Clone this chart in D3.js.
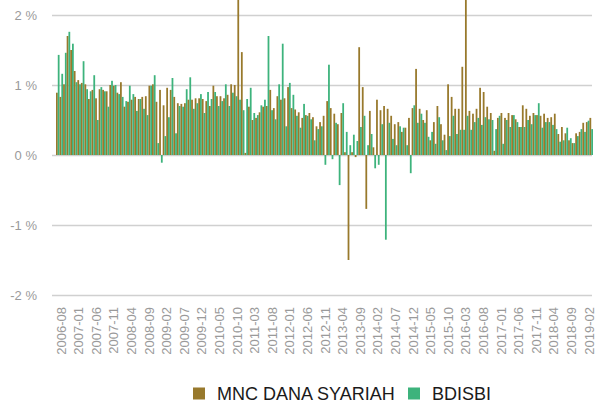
<!DOCTYPE html>
<html>
<head>
<meta charset="utf-8">
<script src="https://cdn.jsdelivr.net/npm/d3@7/dist/d3.min.js"></script>
<style>
  html, body { margin: 0; padding: 0; background: #fff; }
  svg { display: block; font-family: "Liberation Sans", Arial, sans-serif; }
</style>
</head>
<body>
<svg id="chart" width="596" height="403"></svg>
<script>
// ---- data ----
const seriesNames = ["MNC DANA SYARIAH", "BDISBI"];
const seriesColors = ["#98792c", "#3db37c"];
const tickLabels = ["2006-08","2007-01","2007-06","2007-11","2008-04","2008-09","2009-02","2009-07","2009-12","2010-05","2010-10","2011-03","2011-08","2012-01","2012-06","2012-11","2013-04","2013-09","2014-02","2014-07","2014-12","2015-05","2015-10","2016-03","2016-08","2017-01","2017-06","2017-11","2018-04","2018-09","2019-02"];
const yTicks = [-2, -1, 0, 1, 2];

const mnc = [0.89,0.83,1.01,1.70,1.50,1.20,1.07,1.03,1.01,0.80,
0.93,0.81,0.94,0.93,0.91,1.00,0.99,0.89,1.04,0.69,
0.76,0.79,0.83,0.80,0.83,0.84,0.99,1.01,0.76,0.93,
0.71,0.96,0.93,0.83,0.74,0.73,0.74,0.79,0.79,0.81,
0.81,0.80,0.77,0.70,0.99,0.84,0.84,0.81,0.86,1.01,
1.00,2.60,1.47,0.03,0.69,0.50,0.53,0.61,0.69,0.70,
0.93,0.67,0.84,0.79,0.81,0.97,0.67,0.65,0.61,0.53,
0.57,0.60,0.54,0.41,0.47,0.56,0.77,0.67,0.59,0.44,
0.60,0.04,-1.50,0.04,-0.03,1.54,0.97,-0.77,0.63,0.11,
0.79,0.64,0.70,0.66,0.56,0.44,0.47,0.33,0.39,0.53,
0.67,1.23,0.66,0.50,0.64,0.21,0.47,0.70,0.44,0.29,
1.01,0.83,0.66,0.66,1.26,2.50,0.63,0.59,0.66,0.96,
0.90,0.69,0.60,0.06,0.53,0.60,0.53,0.60,0.57,0.51,
0.40,0.71,0.66,0.56,0.60,0.57,0.56,0.59,0.53,0.54,
0.59,0.30,0.40,0.31,0.21,0.17,0.31,0.33,0.46,0.47,
0.53];

const bdisbi = [1.43,1.16,1.46,1.76,1.59,1.04,1.01,1.34,0.94,0.91,
1.14,0.50,0.97,0.91,0.69,1.06,1.00,0.87,0.83,0.77,
0.99,0.87,0.63,0.80,0.66,0.57,0.99,1.14,0.17,-0.11,
0.27,0.54,1.10,0.31,0.70,0.69,0.94,1.11,0.66,0.74,
0.87,0.60,0.90,0.80,0.90,0.70,0.77,1.01,0.70,0.89,
0.84,0.79,0.64,0.80,0.96,0.60,0.57,0.71,0.79,1.70,
0.64,0.51,1.01,1.59,0.41,1.03,0.86,0.56,0.39,0.73,
0.56,0.51,0.21,0.37,0.41,-0.14,1.29,-0.06,0.46,-0.43,
0.74,0.33,0.14,0.29,0.20,0.40,0.56,0.14,0.30,-0.19,
-0.14,0.44,-1.21,0.46,0.23,0.14,0.41,0.39,0.14,-0.26,
0.71,0.46,0.59,0.46,0.26,0.33,0.16,0.54,0.21,0.07,
0.27,0.56,0.30,0.36,0.36,0.56,0.36,0.47,0.53,0.43,
0.54,0.51,0.50,0.37,0.56,0.16,0.50,0.40,0.57,0.47,
0.40,0.40,0.50,0.44,0.57,0.74,0.39,0.47,0.47,0.43,
0.37,0.19,0.21,0.39,0.24,0.17,0.27,0.37,0.33,0.49,
0.37];

// categories: monthly from 2006-08 to 2019-02
const fmt = d3.timeFormat("%Y-%m");
const months = d3.timeMonth.range(new Date(2006, 7, 1), new Date(2019, 2, 1)).map(fmt);

const rows = months.map((m, i) => ({ month: m, values: [mnc[i], bdisbi[i]] }));

// ---- layout ----
const svg = d3.select("#chart");
const gridX0 = 52, gridX1 = 592;

const x = d3.scaleBand().domain(months).range([56, 593]).paddingInner(0).paddingOuter(0);
const xSub = d3.scaleBand().domain([0, 1]).range([0, x.bandwidth()]).padding(0);
const y = d3.scaleLinear().domain([-2, 2]).range([295, 15]);
// label positions (every 5th month)
const xLab = d3.scalePoint().domain(tickLabels).range([60.5, 588.5]).padding(0);

svg.append("defs").append("clipPath").attr("id", "plotclip")
  .append("rect").attr("x", 0).attr("y", 0).attr("width", 596).attr("height", 300);

// gridlines
const grid = svg.append("g").attr("transform", `translate(${gridX0},0)`)
  .call(d3.axisLeft(y).tickValues(yTicks).tickSize(-(gridX1 - gridX0)).tickFormat(""));
grid.select(".domain").remove();
grid.selectAll(".tick line").attr("stroke", "#d0d0d0").attr("stroke-width", 1.3);

// y labels
const yAxis = svg.append("g").attr("transform", "translate(37,0)")
  .call(d3.axisLeft(y).tickValues(yTicks).tickSize(0).tickPadding(0).tickFormat(d => d + " %"));
yAxis.select(".domain").remove();
yAxis.selectAll("text").attr("fill", "#9a9a9a").attr("font-size", "13px")
  .attr("font-family", "'Liberation Sans', Arial, sans-serif");

// bars
const barG = svg.append("g").attr("clip-path", "url(#plotclip)");
barG.selectAll("g.band").data(rows).join("g").attr("class", "band")
  .attr("transform", d => `translate(${x(d.month)},0)`)
  .selectAll("rect").data(d => d.values.map((v, k) => ({ v, k })))
  .join("rect")
  .attr("x", d => xSub(d.k))
  .attr("width", xSub.bandwidth())
  .attr("y", d => y(Math.max(0, d.v)))
  .attr("height", d => Math.abs(y(d.v) - y(0)))
  .attr("fill", d => seriesColors[d.k]);

// x labels
const xAxis = svg.append("g").attr("transform", "translate(0,305)")
  .call(d3.axisBottom(xLab).tickSize(0).tickPadding(0));
xAxis.select(".domain").remove();
xAxis.selectAll("text")
  .attr("fill", "#9a9a9a").attr("font-size", "13px")
  .attr("font-family", "'Liberation Sans', Arial, sans-serif")
  .attr("text-anchor", "end")
  .attr("transform", "rotate(-90)")
  .attr("x", -2).attr("y", 0).attr("dy", "0.35em").attr("dx", 0);

// legend
const legend = svg.append("g");
const legendX = [193, 408];
seriesNames.forEach((name, k) => {
  legend.append("rect").attr("x", legendX[k]).attr("y", 387.5).attr("width", 12).attr("height", 12)
    .attr("fill", seriesColors[k]);
  legend.append("text").attr("x", legendX[k] + 24).attr("y", 399.5)
    .attr("font-size", "18px").attr("fill", "#1a1a1a").text(name);
});
</script>
</body>
</html>
